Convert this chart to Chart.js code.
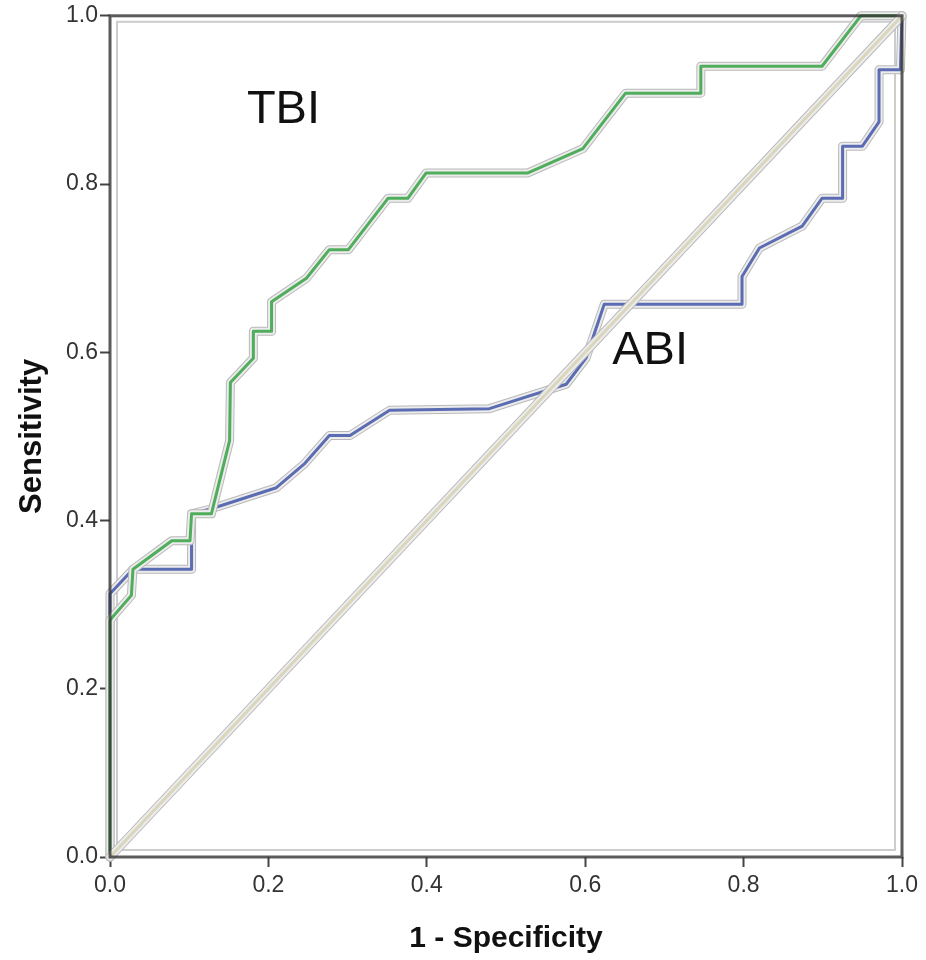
<!DOCTYPE html>
<html>
<head>
<meta charset="utf-8">
<script src="https://cdn.jsdelivr.net/npm/chart.js@4/dist/chart.umd.min.js"></script>
<style>
  html, body { margin: 0; padding: 0; background: #fff; }
  #wrap { width: 926px; height: 960px; }
</style>
</head>
<body>
<div id="wrap"><canvas id="roc" width="926" height="960"></canvas></div>
<script>
// ROC curves (1 - specificity, sensitivity)
const tbiFpr  = [0, 0, 0.003, 0.027, 0.029, 0.078, 0.101, 0.103, 0.128, 0.151, 0.152, 0.181, 0.181, 0.204, 0.204, 0.248, 0.277, 0.301, 0.351, 0.376, 0.399, 0.527, 0.597, 0.651, 0.746, 0.746, 0.899, 0.948, 1.0];
const tbiSens = [0, 0.281, 0.285, 0.311, 0.342, 0.376, 0.376, 0.408, 0.408, 0.495, 0.564, 0.593, 0.625, 0.625, 0.660, 0.688, 0.722, 0.722, 0.783, 0.783, 0.813, 0.813, 0.842, 0.908, 0.908, 0.940, 0.940, 1.0, 1.0];

const abiFpr  = [0, 0, 0.029, 0.103, 0.103, 0.128, 0.210, 0.245, 0.277, 0.303, 0.353, 0.479, 0.576, 0.601, 0.624, 0.798, 0.798, 0.820, 0.874, 0.899, 0.925, 0.925, 0.950, 0.971, 0.971, 0.998, 1.0];
const abiSens = [0, 0.313, 0.342, 0.342, 0.408, 0.414, 0.439, 0.467, 0.501, 0.501, 0.531, 0.533, 0.562, 0.593, 0.657, 0.657, 0.690, 0.724, 0.750, 0.783, 0.783, 0.845, 0.845, 0.874, 0.936, 0.936, 1.0];

const refFpr  = [0, 1];
const refSens = [0, 1];

const tickValues = [0, 0.2, 0.4, 0.6, 0.8, 1.0];

const curveNames = ['TBI', 'ABI'];
const nameX = [0.219, 0.682];
const nameY = [0.888, 0.601];

function pts(xs, ys){ return xs.map((x, i) => ({ x, y: ys[i] })); }

// SPSS style: each line gets a grey outline, a pale band, then the coloured core
function layered(label, data, core, coreColor, order){
  const base = { data, showLine: true, pointRadius: 0, tension: 0, clip: false, borderJoinStyle: 'round', borderCapStyle: 'round' };
  return [
    { ...base, label: label + ' edge', borderColor: '#b9b9b9', borderWidth: 9, order: order + 2 },
    { ...base, label: label + ' band', borderColor: '#ececec', borderWidth: 7, order: order + 1 },
    { ...base, label, borderColor: coreColor, borderWidth: core, order }
  ];
}

const framePlugin = {
  id: 'frame',
  beforeDatasetsDraw(chart){
    const { ctx, chartArea: a } = chart;
    ctx.save();
    ctx.strokeStyle = '#cdcdcd';
    ctx.lineWidth = 2;
    ctx.strokeRect(a.left + 7, a.top + 6, a.right - a.left - 14, a.bottom - a.top - 13);
    ctx.restore();
  },
  afterDatasetsDraw(chart){
    const { ctx, chartArea: a, scales } = chart;
    ctx.save();
    ctx.strokeStyle = 'rgba(55,55,55,0.82)';
    ctx.lineWidth = 3;
    ctx.strokeRect(a.left, a.top, a.right - a.left, a.bottom - a.top);
    // curve names placed in data space
    ctx.fillStyle = '#111';
    ctx.font = '47px "Liberation Sans", Arial, sans-serif';
    ctx.textAlign = 'center';
    ctx.textBaseline = 'middle';
    curveNames.forEach((n, i) => {
      ctx.fillText(n, scales.x.getPixelForValue(nameX[i]), scales.y.getPixelForValue(nameY[i]));
    });
    ctx.restore();
  }
};

const tickFont = { family: '"Liberation Sans", Arial, sans-serif', size: 23 };
const xTitleFont = { family: '"Liberation Sans", Arial, sans-serif', size: 30, weight: 'bold' };
const yTitleFont = { family: '"Liberation Sans", Arial, sans-serif', size: 31, weight: 'bold' };

new Chart(document.getElementById('roc'), {
  type: 'scatter',
  data: {
    datasets: [
      ...layered('Reference', pts(refFpr, refSens), 3, '#d9d6bc', 0),
      ...layered('TBI', pts(tbiFpr, tbiSens), 3, '#4fad5b', 10),
      ...layered('ABI', pts(abiFpr, abiSens), 3, '#5b6cb2', 20)
    ]
  },
  options: {
    responsive: false,
    animation: false,
    layout: { padding: { top: 14, right: 24, left: 0, bottom: 0 } },
    plugins: { legend: { display: false }, tooltip: { enabled: false } },
    scales: {
      x: {
        type: 'linear', min: 0, max: 1,
        afterFit(s){ s.height = 103; },
        afterBuildTicks(s){ s.ticks = tickValues.map(v => ({ value: v })); },
        border: { display: false },
        grid: { drawOnChartArea: false, drawTicks: true, tickLength: 10, tickWidth: 2, tickColor: '#444' },
        ticks: { color: '#333', font: tickFont, padding: 5, maxRotation: 0, callback: v => v.toFixed(1) },
        title: { display: true, text: '1 - Specificity', color: '#111', font: xTitleFont, padding: { top: 0, bottom: 3 } }
      },
      y: {
        type: 'linear', min: 0, max: 1,
        afterFit(s){ s.width = 110; },
        afterBuildTicks(s){ s.ticks = tickValues.map(v => ({ value: v })); },
        border: { display: false },
        grid: { drawOnChartArea: false, drawTicks: true, tickLength: 10, tickWidth: 2, tickColor: '#444' },
        ticks: { color: '#333', font: tickFont, padding: 2, callback: v => v.toFixed(1) },
        title: { display: true, text: 'Sensitivity', color: '#111', font: yTitleFont, padding: { top: 14, bottom: 0 } }
      }
    }
  },
  plugins: [framePlugin]
});
</script>
</body>
</html>
